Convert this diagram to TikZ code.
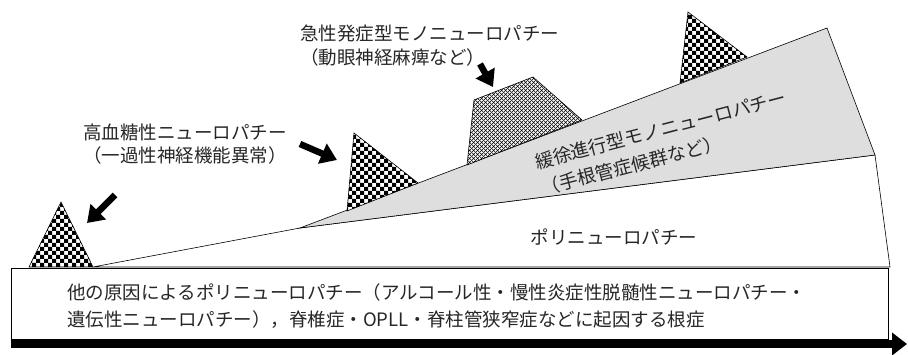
\documentclass[tikz,border=0pt]{standalone}
\usepackage{fontspec}
\setmainfont{Noto Sans CJK JP}
\usetikzlibrary{patterns,arrows.meta}
\pgfdeclarepatternformonly{bigchecker}{\pgfqpoint{-.1pt}{-.1pt}}{\pgfqpoint{8.1pt}{8.1pt}}{\pgfqpoint{8pt}{8pt}}{%
  \pgfpathrectangle{\pgfqpoint{0pt}{0pt}}{\pgfqpoint{4.05pt}{4.05pt}}%
  \pgfpathrectangle{\pgfqpoint{4pt}{4pt}}{\pgfqpoint{4.05pt}{4.05pt}}%
  \pgfusepath{fill}}
\pgfdeclarepatternformonly{dhatch}{\pgfqpoint{0pt}{0pt}}{\pgfqpoint{3.6pt}{3.6pt}}{\pgfqpoint{3.6pt}{3.6pt}}{%
  \pgfsetlinewidth{0.6pt}%
  \pgfpathmoveto{\pgfqpoint{-1pt}{-1pt}}\pgfpathlineto{\pgfqpoint{4.6pt}{4.6pt}}%
  \pgfpathmoveto{\pgfqpoint{-1pt}{4.6pt}}\pgfpathlineto{\pgfqpoint{4.6pt}{-1pt}}%
  \pgfusepath{stroke}}
\definecolor{txt}{gray}{0.15}
\definecolor{greyfill}{gray}{0.87}
\tikzset{
  outline/.style={draw=black, line width=0.6pt, line join=miter},
  checker/.style={outline, fill=white, pattern=bigchecker, pattern color=black},
  hatch/.style={outline, fill=white, pattern=dhatch, pattern color=black},
  blockarrow/.style={line width=6.5pt, -{Triangle[length=16pt,width=21pt]}},
  lbl/.style={inner sep=0pt, text=txt, font=\fontsize{18.5pt}{22pt}\selectfont},
}
\begin{document}
\begin{tikzpicture}[x=1pt,y=1pt]
\useasboundingbox (0,0) rectangle (908,355);

% white polyneuropathy wedge
\draw[outline, fill=white] (93,88) -- (300,127) -- (875,200) -- (890,88) -- cycle;
% small triangle at left
\fill[white] (29,88) -- (61,153) -- (93,88) -- cycle;
\draw[checker] (29,88) -- (61,153) -- (93,88) -- cycle;
% top-right triangle (behind grey)
\fill[white] (688,343) -- (680,272) -- (747,298) -- cycle;
\draw[checker] (688,343) -- (680,272) -- (747,298) -- cycle;
% grey mononeuropathy wedge
\draw[outline, fill=greyfill] (300,127) -- (827,327) -- (875,200) -- cycle;
% hyperglycemic triangle
\fill[white] (354,222) -- (347,144) -- (418,172) -- cycle;
\draw[checker] (354,222) -- (347,144) -- (418,172) -- cycle;
% acute trapezoid
\fill[white] (467,190) -- (474,255) -- (533,278) -- (582,235) -- cycle;
\draw[hatch] (467,190) -- (474,255) -- (533,278) -- (582,235) -- cycle;

% arrows
\coordinate (a1s) at (115,160); \coordinate (a1e) at (87,132);
\coordinate (a2s) at (300,211); \coordinate (a2e) at (337,195);
\coordinate (a3s) at (480,291); \coordinate (a3e) at (493,268);
\draw[blockarrow] (a1s) -- (a1e);
\draw[blockarrow] (a2s) -- (a2e);
\draw[blockarrow] (a3s) -- (a3e);

% labels
\node[lbl] (h1) at (185,223) {高血糖性ニューロパチー};
\node[lbl] (h2) at (185,200) {（一過性神経機能異常）};
\node[lbl, anchor=west] (m1) at (300,322) {急性発症型モノニューロパチー};
\node[lbl, anchor=west] (m2) at (300,298) {（動眼神経麻痺など）};
\node[lbl, align=left, anchor=north west, rotate=14.6,
      font=\fontsize{18.5pt}{27pt}\selectfont] (g) at (533,201)
      {緩徐進行型モノニューロパチー\\（手根管症候群など）};
\node[lbl] (p) at (614,118) {ポリニューロパチー};

% bottom box
\draw[outline, fill=white] (11,16) rectangle (888,87);
\node[lbl, anchor=west] (b1) at (67,63) {他の原因によるポリニューロパチー（アルコール性・慢性炎症性脱髄性ニューロパチー・};
\node[lbl, anchor=west] (b2) at (67,35) {遺伝性ニューロパチー），脊椎症・OPLL・脊柱管狭窄症などに起因する根症};

% time axis
\coordinate (t0) at (11,11); \coordinate (t1) at (907,11);
\draw[line width=8pt, -{Triangle[length=15pt,width=22pt]}] (t0) -- (t1);
\end{tikzpicture}
\end{document}
